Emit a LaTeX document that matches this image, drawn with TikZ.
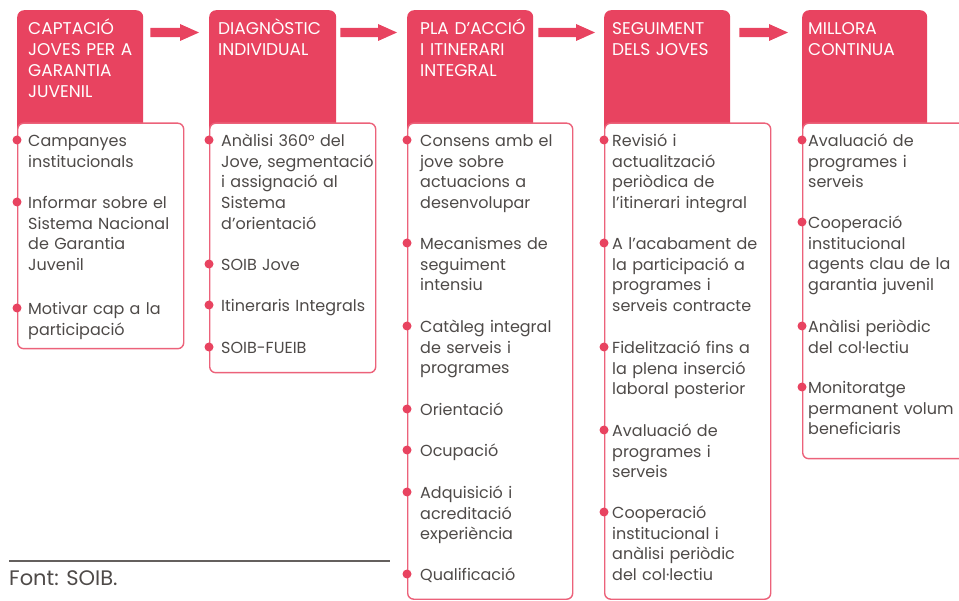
\documentclass[tikz,border=0pt]{standalone}
\usepackage{fontspec}
\setmainfont{Poppins}
\usetikzlibrary{calc}
\definecolor{hred}{RGB}{232,67,96}
\definecolor{bpink}{RGB}{236,98,122}
\definecolor{tgray}{RGB}{78,74,72}
\definecolor{rulegray}{RGB}{100,96,94}
\newcommand\blockarr[2]{%
  \fill[hred] ($(#1)+(0,-4.6)$) -- ($(#2)+(-19,-4.6)$) -- ($(#2)+(-19,-8.5)$) -- (#2)
     -- ($(#2)+(-19,8.5)$) -- ($(#2)+(-19,4.6)$) -- ($(#1)+(0,4.6)$) -- cycle;}
\begin{document}
\begin{tikzpicture}[x=1pt,y=-1pt,
  hdr/.style={rectangle, fill=hred, rounded corners=7pt, minimum width=#1, minimum height=125pt, anchor=north west, inner sep=0pt},
  panel/.style 2 args={rectangle, draw=bpink, line width=1.4pt, fill=white, rounded corners=6pt, minimum width=#1, minimum height=#2, anchor=north west, inner sep=0pt},
  hdrtext/.style={anchor=base west, align=left, text width=125pt, inner sep=0pt, font=\fontsize{17}{20.8}\selectfont, text=white},
  item/.style={anchor=base west, align=left, text width=170pt, inner sep=0pt, font=\fontsize{16}{20.7}\selectfont, text=tgray},
  dot/.style={circle, fill=hred, inner sep=0pt, minimum size=9pt}]
\useasboundingbox (0,0) rectangle (959,601);
\clip (0,0) rectangle (959,601);
% headers
\node[hdr=126pt] (h1) at (17,10) {};
\node[hdr=127pt] (h2) at (209,10) {};
\node[hdr=126pt] (h3) at (407,10) {};
\node[hdr=126pt] (h4) at (604,10) {};
\node[hdr=125pt] (h5) at (802,10) {};
% panels
\node[panel={166pt}{225.5pt}] (p1) at (17,122.5) {};
\node[panel={166pt}{249.5pt}] (p2) at (209,122.5) {};
\node[panel={165pt}{476pt}] (p3) at (407,122.5) {};
\node[panel={166pt}{476pt}] (p4) at (604,122.5) {};
\node[panel={180pt}{335.5pt}] (p5) at (802,122.5) {};
% header texts
\node[hdrtext] (t1) at ([shift={(11,25)}]h1.north west) {CAPTACIÓ\\JOVES PER A\\GARANTIA\\JUVENIL};
\node[hdrtext] (t2) at ([shift={(9,25)}]h2.north west) {DIAGNÒSTIC\\INDIVIDUAL};
\node[hdrtext] (t3) at ([shift={(13,25)}]h3.north west) {PLA D’ACCIÓ\\I ITINERARI\\INTEGRAL};
\node[hdrtext] (t4) at ([shift={(8,25)}]h4.north west) {SEGUIMENT\\DELS JOVES};
\node[hdrtext] (t5) at ([shift={(6,25)}]h5.north west) {MILLORA\\CONTINUA};
% arrows
\coordinate (a1s) at ([shift={(7,22.5)}]h1.north east);
\coordinate (a1e) at ([shift={(-10,22.5)}]h2.north west);
\coordinate (a2s) at ([shift={(4,22.5)}]h2.north east);
\coordinate (a2e) at ([shift={(-10,22.5)}]h3.north west);
\coordinate (a3s) at ([shift={(5,22.5)}]h3.north east);
\coordinate (a3e) at ([shift={(-9,22.5)}]h4.north west);
\coordinate (a4s) at ([shift={(9,22.5)}]h4.north east);
\coordinate (a4e) at ([shift={(-14,22.5)}]h5.north west);
\blockarr{a1s}{a1e}
\blockarr{a2s}{a2e}
\blockarr{a3s}{a3e}
\blockarr{a4s}{a4e}
% column 1
\node[dot] (d11) at (17,140) {};
\node[item] (i11) at (28,146.5) {Campanyes\\institucionals};
\node[dot] (d12) at (17,202) {};
\node[item] (i12) at (28,208.5) {Informar sobre el\\Sistema Nacional\\de Garantia\\Juvenil};
\node[dot] (d13) at (17,308) {};
\node[item] (i13) at (28,314.5) {Motivar cap a la\\participació};
% column 2
\node[dot] (d21) at (209,140) {};
\node[item] (i21) at (221,146.5) {Anàlisi 360° del\\Jove, segmentació\\i assignació al\\Sistema\\d’orientació};
\node[dot] (d22) at (209,264) {};
\node[item] (i22) at (221,270.5) {SOIB Jove};
\node[dot] (d23) at (209,305) {};
\node[item] (i23) at (221,311.5) {Itineraris Integrals};
\node[dot] (d24) at (209,347) {};
\node[item] (i24) at (221,353.5) {SOIB-FUEIB};
% column 3
\node[dot] (d31) at (407,140) {};
\node[item] (i31) at (420,146.5) {Consens amb el\\jove sobre\\actuacions a\\desenvolupar};
\node[dot] (d32) at (407,243) {};
\node[item] (i32) at (420,249.5) {Mecanismes de\\seguiment\\intensiu};
\node[dot] (d33) at (407,326) {};
\node[item] (i33) at (420,332.5) {Catàleg integral\\de serveis i\\programes};
\node[dot] (d34) at (407,409) {};
\node[item] (i34) at (420,415.5) {Orientació};
\node[dot] (d35) at (407,450) {};
\node[item] (i35) at (420,456.5) {Ocupació};
\node[dot] (d36) at (407,492) {};
\node[item] (i36) at (420,498.5) {Adquisició i\\acreditació\\experiència};
\node[dot] (d37) at (407,574) {};
\node[item] (i37) at (420,580.5) {Qualificació};
% column 4
\node[dot] (d41) at (604,140) {};
\node[item] (i41) at (612,146.5) {Revisió i\\actualització\\periòdica de\\l’itinerari integral};
\node[dot] (d42) at (604,243) {};
\node[item] (i42) at (612,249.5) {A l’acabament de\\la participació a\\programes i\\serveis contracte};
\node[dot] (d43) at (604,347) {};
\node[item] (i43) at (612,353.5) {Fidelització fins a\\la plena inserció\\laboral posterior};
\node[dot] (d44) at (604,430) {};
\node[item] (i44) at (612,436.5) {Avaluació de\\programes i\\serveis};
\node[dot] (d45) at (604,512) {};
\node[item] (i45) at (612,518.5) {Cooperació\\institucional i\\anàlisi periòdic\\del col·lectiu};
% column 5
\node[dot] (d51) at (802,140) {};
\node[item] (i51) at (808,146.5) {Avaluació de\\programes i\\serveis};
\node[dot] (d52) at (802,222) {};
\node[item] (i52) at (808,228.5) {Cooperació\\institucional\\agents clau de la\\garantia juvenil};
\node[dot] (d53) at (802,326) {};
\node[item] (i53) at (808,332.5) {Anàlisi periòdic\\del col·lectiu};
\node[dot] (d54) at (802,387) {};
\node[item] (i54) at (808,393.5) {Monitoratge\\permanent volum\\beneficiaris};
% source
\coordinate (r1) at (9,561);
\coordinate (r2) at (390,561);
\draw[rulegray, line width=1.1pt] (r1) -- (r2);
\node[anchor=base west, inner sep=0pt, font=\fontsize{21}{24}\selectfont, text=tgray] (src) at (9,585) {Font: SOIB.};
\end{tikzpicture}
\end{document}
